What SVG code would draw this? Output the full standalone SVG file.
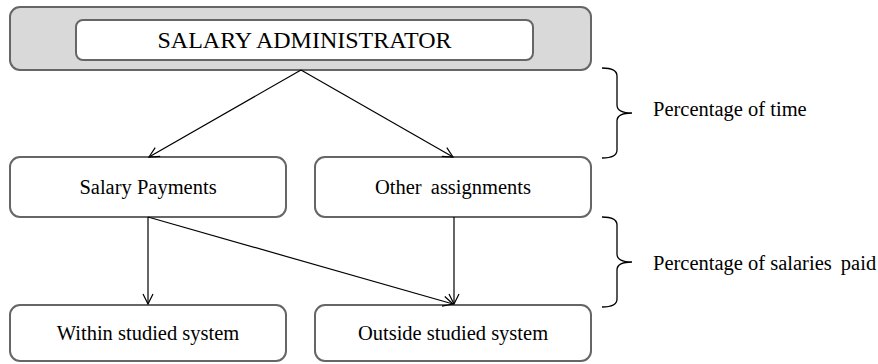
<svg xmlns="http://www.w3.org/2000/svg" width="878" height="364" viewBox="0 0 878 364">
  <style>
    .box { fill: #ffffff; stroke: #666666; stroke-width: 2; }
    .outer { fill: #d9d9d9; stroke: #666666; stroke-width: 2; }
    .lbl { font-family: "Liberation Serif", "Times New Roman", serif; font-size: 20.5px; fill: #000000; text-anchor: middle; }
    .note { font-family: "Liberation Serif", "Times New Roman", serif; font-size: 20.5px; fill: #000000; }
    .edge { stroke: #000000; stroke-width: 1.2; fill: none; marker-end: url(#arrow); }
    .brace { stroke: #000000; stroke-width: 1.3; fill: none; }
  </style>
  <defs>
    <marker id="arrow" viewBox="0 0 12 12" refX="11" refY="6" markerWidth="12" markerHeight="12" markerUnits="userSpaceOnUse" orient="auto">
      <path d="M1,1 L11,6 L1,11" fill="none" stroke="#000000" stroke-width="1.2"/>
    </marker>
  </defs>

  <g id="salary-administrator">
    <rect class="outer" x="10" y="7" width="581" height="63" rx="10" ry="10"/>
    <rect class="box" x="76" y="20" width="457" height="40" rx="7" ry="7"/>
    <text class="lbl" x="304.5" y="48" style="font-size:24px">SALARY ADMINISTRATOR</text>
  </g>

  <g id="salary-payments">
    <rect class="box" x="10" y="157" width="276" height="60" rx="10" ry="10"/>
    <text class="lbl" x="148" y="194">Salary Payments</text>
  </g>

  <g id="other-assignments">
    <rect class="box" x="315" y="157" width="276" height="60" rx="10" ry="10"/>
    <text class="lbl" x="453" y="194">Other<tspan dx="4"> assignments</tspan></text>
  </g>

  <g id="within-studied-system">
    <rect class="box" x="10" y="305" width="276" height="56" rx="10" ry="10"/>
    <text class="lbl" x="148" y="340">Within studied system</text>
  </g>

  <g id="outside-studied-system">
    <rect class="box" x="315" y="305" width="276" height="56" rx="10" ry="10"/>
    <text class="lbl" x="453" y="340">Outside studied system</text>
  </g>

  <g id="connectors">
    <line class="edge" x1="301" y1="70" x2="149" y2="157"/>
    <line class="edge" x1="301" y1="70" x2="453" y2="157"/>
    <line class="edge" x1="148" y1="217" x2="148" y2="304"/>
    <line class="edge" x1="148" y1="217" x2="453" y2="304"/>
    <line class="edge" x1="454" y1="217" x2="454" y2="304"/>
  </g>

  <g id="time-bracket">
    <path class="brace" d="M602,68 Q617,68 617,76 L617,105 Q617,113 632,113 Q617,113 617,121 L617,150 Q617,158 602,158"/>
    <text class="note" x="653" y="116">Percentage of time</text>
  </g>

  <g id="salaries-bracket">
    <path class="brace" d="M602,217 Q617,217 617,225 L617,254 Q617,262 632,262 Q617,262 617,270 L617,299 Q617,307 602,307"/>
    <text class="note" x="653" y="270">Percentage of salaries<tspan dx="4"> paid</tspan></text>
  </g>
</svg>
